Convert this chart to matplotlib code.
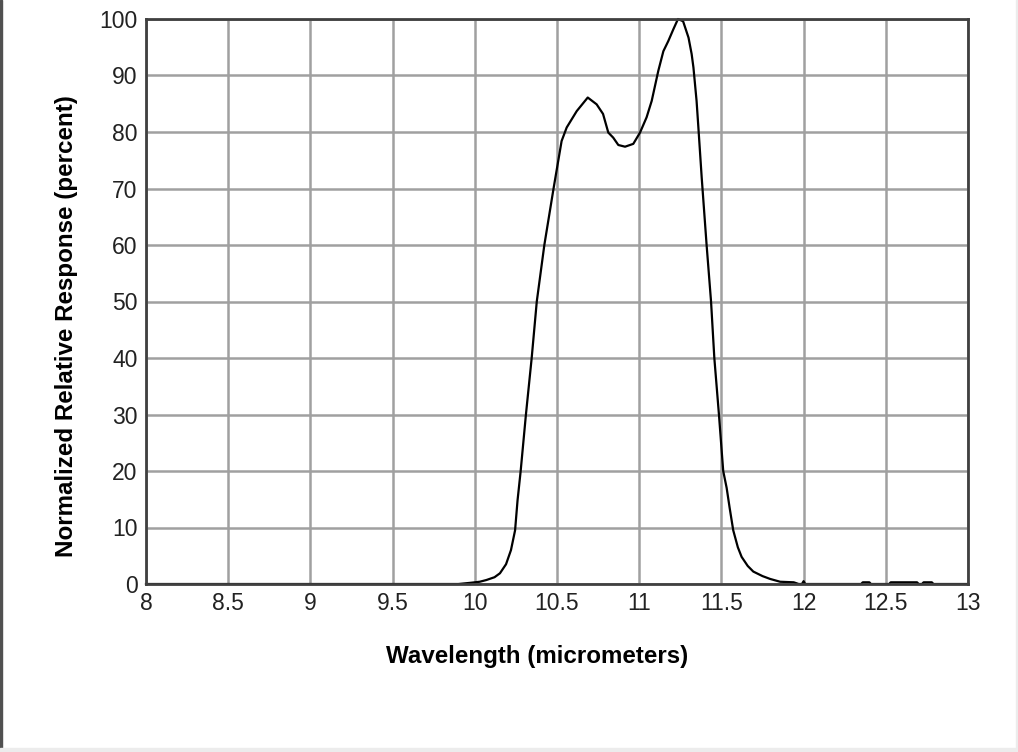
import matplotlib
matplotlib.use("Agg")
import matplotlib.pyplot as plt
import numpy as np

# Wavelength (micrometers) and normalized response (percent)
wavelength = [8.0, 9.9, 9.97, 10.03, 10.07, 10.12, 10.153, 10.19, 10.22, 10.245,
              10.26, 10.279, 10.311, 10.346, 10.377, 10.423, 10.479, 10.528, 10.559,
              10.62, 10.687, 10.741, 10.78, 10.812, 10.842, 10.873, 10.914, 10.964,
              11.005, 11.045, 11.076, 11.116, 11.147, 11.177, 11.208, 11.236, 11.267,
              11.30, 11.319, 11.33, 11.349, 11.36, 11.38, 11.41, 11.437, 11.457,
              11.485, 11.511, 11.532, 11.55, 11.572, 11.60, 11.623, 11.66, 11.694,
              11.75, 11.796, 11.857, 11.94, 11.97, 11.99, 12.0, 12.01, 12.35, 12.36,
              12.40, 12.41, 12.52, 12.53, 12.69, 12.70, 12.72, 12.73, 12.78, 12.79, 13.0]
response = [0.0, 0.0, 0.2, 0.4, 0.7, 1.2, 1.9, 3.5, 6.0, 9.5,
            14.8, 20.0, 30.0, 40.0, 50.0, 60.0, 70.0, 78.4, 80.8,
            83.7, 86.1, 84.9, 83.2, 79.9, 79.0, 77.7, 77.4, 77.9,
            79.9, 82.6, 85.5, 90.8, 94.3, 96.1, 98.2, 100.0, 99.6,
            96.7, 93.8, 91.4, 85.5, 80.8, 72.0, 60.0, 50.0, 40.0,
            30.0, 20.0, 17.0, 13.5, 9.5, 6.5, 4.8, 3.2, 2.2,
            1.4, 0.9, 0.4, 0.3, 0.0, 0.0, 0.5, 0.0, 0.0, 0.3,
            0.3, 0.0, 0.0, 0.3, 0.3, 0.0, 0.0, 0.3, 0.3, 0.0, 0.0]

x_ticks = [8, 8.5, 9, 9.5, 10, 10.5, 11, 11.5, 12, 12.5, 13]
x_tick_labels = ["8", "8.5", "9", "9.5", "10", "10.5", "11", "11.5", "12", "12.5", "13"]
y_ticks = [0, 10, 20, 30, 40, 50, 60, 70, 80, 90, 100]

plt.rcParams['font.family'] = ['Liberation Sans', 'DejaVu Sans']

fig = plt.figure(figsize=(10.18, 7.52), dpi=100)
fig.patch.set_facecolor('white')
ax = fig.add_axes([146/1018, 1-584/752, (968-146)/1018, (584-19)/752])

ax.plot(wavelength, response, color='black', linewidth=1.6, zorder=3, clip_on=False)

ax.set_xlim(8, 13)
ax.set_ylim(0, 100)
ax.set_xticks(x_ticks)
ax.set_xticklabels(x_tick_labels)
ax.set_yticks(y_ticks)
ax.grid(True, color='#a0a0a0', linewidth=1.8, zorder=0)
ax.set_axisbelow(True)
for s in ax.spines.values():
    s.set_color('#404040')
    s.set_linewidth(2)
    s.set_zorder(4)
ax.tick_params(length=0, labelsize=16.5, colors='#222222', pad=6)

ax.set_xlabel("Wavelength (micrometers)", fontsize=17.4, fontweight='bold')
ax.xaxis.set_label_coords((537-146)/(968-146), -(657-584)/(584-19))
ax.set_ylabel("Normalized Relative Response (percent)", fontsize=17.4, fontweight='bold')
ax.yaxis.set_label_coords(-(146-67)/(968-146), 1-(326-19)/(584-19))
ax.xaxis.label.set_va('center')
ax.yaxis.label.set_va('center')

# figure frame: dark left edge, light gray bottom and right bands
fig.add_artist(plt.Rectangle((0, 0), 2/1018, 1, transform=fig.transFigure, color='#505050', zorder=10))
fig.add_artist(plt.Rectangle((0, 0), 1, 4/752, transform=fig.transFigure, color='#ececec', zorder=10))
fig.add_artist(plt.Rectangle((1-2/1018, 0), 2/1018, 1, transform=fig.transFigure, color='#ececec', zorder=10))

fig.savefig("out.png", dpi=100)
